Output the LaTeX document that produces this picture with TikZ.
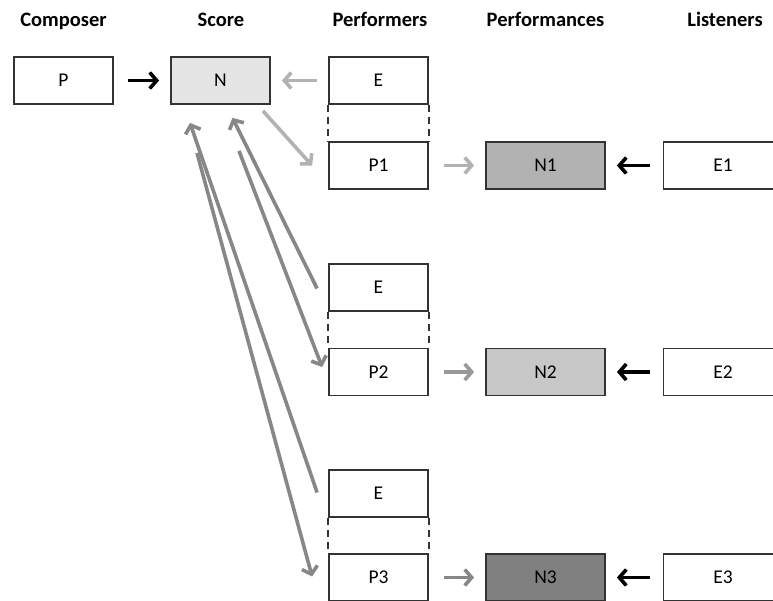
\documentclass[tikz,border=0pt]{standalone}
\usepackage{fontspec}
\setmainfont{Carlito}
\usetikzlibrary{arrows.meta}
\newcommand{\BoxFont}{\fontsize{19.5}{21}\selectfont}
\newcommand{\HeadFont}{\fontsize{20.5}{22}\selectfont\bfseries}

\begin{document}
\begin{tikzpicture}[x=1pt,y=-1pt,
    box/.style={draw=black!80, line width=1.8pt, minimum width=99pt,
      minimum height=47pt, inner sep=0pt, font=\BoxFont},
    widebox/.style={box, minimum width=119pt},
    head/.style={anchor=base, inner sep=0pt, font=\HeadFont},
    arr/.style={line width=3.6pt, -{Straight Barb[length=7pt,width=16pt]}},
    gap/.style={draw=black!80, line width=1.8pt, dash pattern=on 7pt off 5pt}]
    \useasboundingbox (0,0) rectangle (773,600);
    % column titles
    \node[head] (hComposer) at (63.5,26) {Composer};
    \node[head] (hScore) at (221,26) {Score};
    \node[head] (hPerformers) at (380,26) {Performers};
    \node[head] (hPerformances) at (545.5,26) {Performances};
    \node[head] (hListeners) at (725,26) {Listeners};
    % boxes
    \node[box] (P) at (63.5,80.5) {P};
    \node[box, fill=black!10] (N) at (220.5,80.5) {N};
    \node[box] (E0) at (378.5,80.5) {E};
    \node[box] (P1) at (378.5,165.5) {P1};
    \node[widebox, fill=black!30] (N1) at (545.5,165.5) {N1};
    \node[widebox] (E1) at (723,165.5) {E1};
    \node[box] (Ea) at (378.5,287.5) {E};
    \node[box] (P2) at (378.5,372) {P2};
    \node[widebox, fill=black!22] (N2) at (545.5,372) {N2};
    \node[widebox] (E2) at (723,372) {E2};
    \node[box] (Eb) at (378.5,493.5) {E};
    \node[box] (P3) at (378.5,577.5) {P3};
    \node[widebox, fill=black!50] (N3) at (545.5,577.5) {N3};
    \node[widebox] (E3) at (723,577.5) {E3};
    % dashed links
    \draw[gap] (E0.south west) -- (P1.north west);
    \draw[gap] (E0.south east) -- (P1.north east);
    \draw[gap] (Ea.south west) -- (P2.north west);
    \draw[gap] (Ea.south east) -- (P2.north east);
    \draw[gap] (Eb.south west) -- (P3.north west);
    \draw[gap] (Eb.south east) -- (P3.north east);
    % arrows
    \draw[arr, black] ([xshift=14.5]P.east) -- ([xshift=-11]N.west);
    \draw[arr, black!30] ([xshift=-11]E0.west) -- ([xshift=11]N.east);
    \draw[arr, black!30] ([shift={(-8,6)}]N.south east) -- ([xshift=-16]P1.west);
    \draw[arr, black!30] ([xshift=15]P1.east) -- ([xshift=-11]N1.west);
    \draw[arr, black!40] ([xshift=15]P2.east) -- ([xshift=-11]N2.west);
    \draw[arr, black!47] ([xshift=15]P3.east) -- ([xshift=-11]N3.west);
    \draw[arr, black] ([xshift=-13]E1.west) -- ([xshift=11]N1.east);
    \draw[arr, black] ([xshift=-13]E2.west) -- ([xshift=11]N2.east);
    \draw[arr, black] ([xshift=-13]E3.west) -- ([xshift=11]N3.east);
    \draw[arr, black!47] ([shift={(-11,1)}]Ea.west) -- ([shift={(12,13)}]N.south);
    \draw[arr, black!47] ([shift={(18.5,46)}]N.south) -- ([shift={(-6,-5)}]P2.west);
    \draw[arr, black!47] ([shift={(-11,-1)}]Eb.west) -- ([shift={(-30.5,18)}]N.south);
    \draw[arr, black!47] ([shift={(-23.5,48)}]N.south) -- ([shift={(-16,-1)}]P3.west);
  \end{tikzpicture}
\end{document}
